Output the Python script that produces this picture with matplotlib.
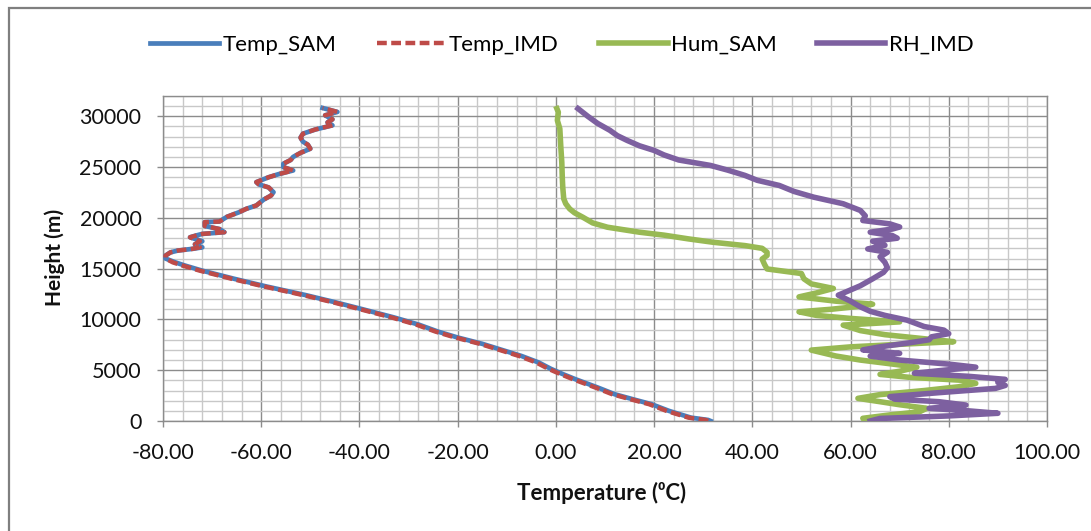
from matplotlib import pyplot as plt
from matplotlib.ticker import MultipleLocator, FormatStrFormatter
from matplotlib.patches import Rectangle

# Temperature profile (height in m, temperature in deg C)
temp_h = [0, 100, 330, 700, 1000, 1650, 2100, 2630, 3300, 4110,
          4600, 5130, 5760, 6400, 7000, 7600, 8220, 8800, 9500, 10200,
          11020, 11700, 12400, 13250, 14000, 14800, 15300, 15620, 16000, 16280,
          16600, 16780, 16950, 17100, 17400, 17700, 18090, 18300, 18420, 18590,
          18900, 19200, 19580, 19640, 20100, 20560, 20900, 21220, 21800, 22200,
          22530, 23000, 23300, 23520, 24000, 24300, 24670, 25000, 25330, 25700,
          26000, 26400, 26810, 27200, 27500, 27900, 28290, 28700, 29110, 29400,
          29700, 30100, 30430, 30820]
temp_sam = [31.5, 31, 27.5, 25, 23, 19.5, 16, 12, 8.5, 4,
            1.5, -1, -3.5, -7, -11, -15, -20, -24, -28, -33,
            -39.5, -45, -51, -59, -65.5, -72, -75.5, -77.5, -79.5, -79.5,
            -78.5, -77, -74, -72, -73.5, -72, -74.5, -73, -72, -67.5,
            -68.5, -71.5, -71.5, -68.5, -67, -64.5, -63, -61, -59.5, -58,
            -57.5, -58.5, -60.5, -61, -58.5, -56.5, -53.5, -55.5, -55.5, -54,
            -53.5, -52, -50, -50.5, -51.5, -52, -51.5, -49, -45.5, -46.5,
            -45.5, -47, -44.5, -47.5]
temp_imd = [31, 30.5, 27, 24.5, 22.5, 19, 15.5, 11.5, 8, 3.5,
            1, -1.5, -4, -7.5, -11.5, -15.5, -20.5, -24.5, -28.5, -33.5,
            -40, -45.5, -51.5, -59.5, -66, -72.5, -76, -78, -79.5, -79.5,
            -78.5, -77, -74, -72.5, -73.5, -72.5, -74.5, -73, -72, -67.5,
            -68.5, -71.5, -71.5, -68.5, -67, -64.5, -63, -61, -59.5, -58,
            -57.5, -58.5, -60.5, -61, -58.5, -56.5, -53.5, -55.5, -55.5, -54,
            -53.5, -52, -50, -50.5, -51.5, -52, -51.5, -49, -45.5, -46.5,
            -45.5, -47, -44.5, -47.5]

# Humidity from SAM (%)
hum_h = [0, 265, 600, 900, 1250, 1600, 1900, 2230, 2600, 3000,
         3370, 3700, 4000, 4300, 4590, 4900, 5300, 5700, 6000, 6400,
         6980, 7300, 7600, 7810, 8100, 8500, 8900, 9440, 9760, 10100,
         10400, 10750, 11000, 11300, 11500, 11800, 12220, 12600, 13050, 13500,
         14000, 14520, 14970, 15400, 15950, 16300, 16610, 17000, 17270, 17600,
         17930, 18300, 18590, 19080, 19500, 20060, 20500, 20890, 21400, 21880,
         23000, 24000, 25490, 27000, 28780, 29600, 30400, 30760]
hum_sam = [63, 62.5, 68, 74, 75.5, 70, 66, 61.5, 66, 75,
           82, 85.5, 83, 72, 66, 70, 73.5, 67, 62, 57,
           52, 60, 72, 81, 75, 67, 62, 58.5, 70, 60,
           53, 49.5, 56, 62, 64.5, 57, 49.5, 53, 56.5, 52,
           50.5, 50, 43, 42.5, 42, 43, 43, 42, 38.5, 32,
           27, 22, 17, 10.5, 7.5, 5.5, 3.8, 2.8, 2, 1.6,
           1.4, 1.3, 1.2, 1, 0.8, 0.3, 0.5, 0.2]

# Relative humidity from IMD (%)
rh_h = [0, 250, 500, 760, 1000, 1250, 1570, 1900, 2150, 2400,
        2790, 3210, 3500, 3800, 4100, 4400, 4700, 5000, 5300, 5600,
        6000, 6390, 6660, 7000, 7300, 7700, 8000, 8290, 8600, 8950,
        9300, 9930, 10400, 10800, 11240, 11800, 12390, 12800, 13320, 14000,
        14630, 15100, 15620, 16160, 16610, 16940, 17300, 17700, 18000, 18260,
        18590, 18900, 19100, 19410, 19740, 20200, 20730, 21390, 22040, 22600,
        23190, 23700, 24180, 24700, 25160, 25700, 26200, 26640, 27100, 27630,
        28100, 28620, 29300, 30000, 30760]
rh_imd = [64, 66, 80, 90, 84, 76, 83.5, 78, 69, 68,
          78, 89.5, 91.5, 90, 91.5, 84, 73, 79, 85.5, 80,
          70, 64, 70, 62.5, 66, 72, 76, 76.5, 80, 79,
          75, 71.5, 67, 64, 62, 60, 57.5, 59.5, 62, 64.5,
          66.7, 67.5, 67, 66, 67.5, 63.5, 67, 64.5, 69.5, 68.5,
          64, 68.5, 70, 68, 62.5, 63, 62, 58.5, 52.5, 48.5,
          45.5, 41, 38.5, 35, 31.5, 25, 22, 20, 17, 14.5,
          12.5, 11, 8.5, 6.5, 4.5]

plt.rcParams['font.family'] = ['Lato', 'DejaVu Sans']

fig = plt.figure(figsize=(10.91, 5.31), dpi=100)
ax = fig.add_axes([163/1091, 1 - 421/531, (1047 - 163)/1091, (421 - 96)/531])

# Series
ax.plot(temp_sam, temp_h, color='#4a7ebb', lw=3.4, label='Temp_SAM', zorder=3)
ax.plot(temp_imd, temp_h, color='#be4b48', lw=3.2, dashes=(2.2, 1), label='Temp_IMD', zorder=4)
ax.plot(hum_sam, hum_h, color='#98b954', lw=4.0, label='Hum_SAM', zorder=5)
ax.plot(rh_imd, rh_h, color='#7d60a0', lw=4.0, label='RH_IMD', zorder=6)

# Axes and grid
ax.set_xlim(-80, 100)
ax.set_ylim(0, 32000)
ax.xaxis.set_major_locator(MultipleLocator(20))
ax.xaxis.set_minor_locator(MultipleLocator(4))
ax.yaxis.set_major_locator(MultipleLocator(5000))
ax.yaxis.set_minor_locator(MultipleLocator(1000))
ax.xaxis.set_major_formatter(FormatStrFormatter('%.2f'))
ax.set_yticks([0, 5000, 10000, 15000, 20000, 25000, 30000])

ax.grid(which='major', color='#8c8c8c', lw=1.0, zorder=0)
ax.grid(which='minor', color='#c8c8c8', lw=1.0, zorder=0)
ax.set_axisbelow(True)

for s in ax.spines.values():
    s.set_color('#8c8c8c')
    s.set_linewidth(1.0)

ax.tick_params(which='major', direction='out', length=4.5, width=1.0,
               color='#8c8c8c', labelsize=15.5, labelcolor='#111111')
ax.tick_params(axis='y', pad=11)
ax.tick_params(axis='x', pad=11)
ax.tick_params(which='minor', length=0)

# Axis titles
fig.text(602/1091, 1 - 493/531, 'Temperature (\u2070C)', ha='center', va='center',
         fontsize=16, fontweight='bold', color='#111111')
fig.text(55/1091, 1 - 257/531, 'Height (m)', ha='center', va='center', rotation=90,
         fontsize=15, fontweight='bold', color='#111111')

# Legend
fig.legend(loc='center', bbox_to_anchor=(562/1091, 1 - 45/531), ncol=4, frameon=False,
           fontsize=16, handlelength=3.1, handletextpad=0.15, columnspacing=1.8)

# Outer chart border
fig.patches.append(Rectangle((9/1091, -0.1), 1.2, 1.1 - 8/531, transform=fig.transFigure,
                             fill=False, edgecolor='#7f7f7f', lw=1.6))

fig.savefig('out.png', dpi=100)
